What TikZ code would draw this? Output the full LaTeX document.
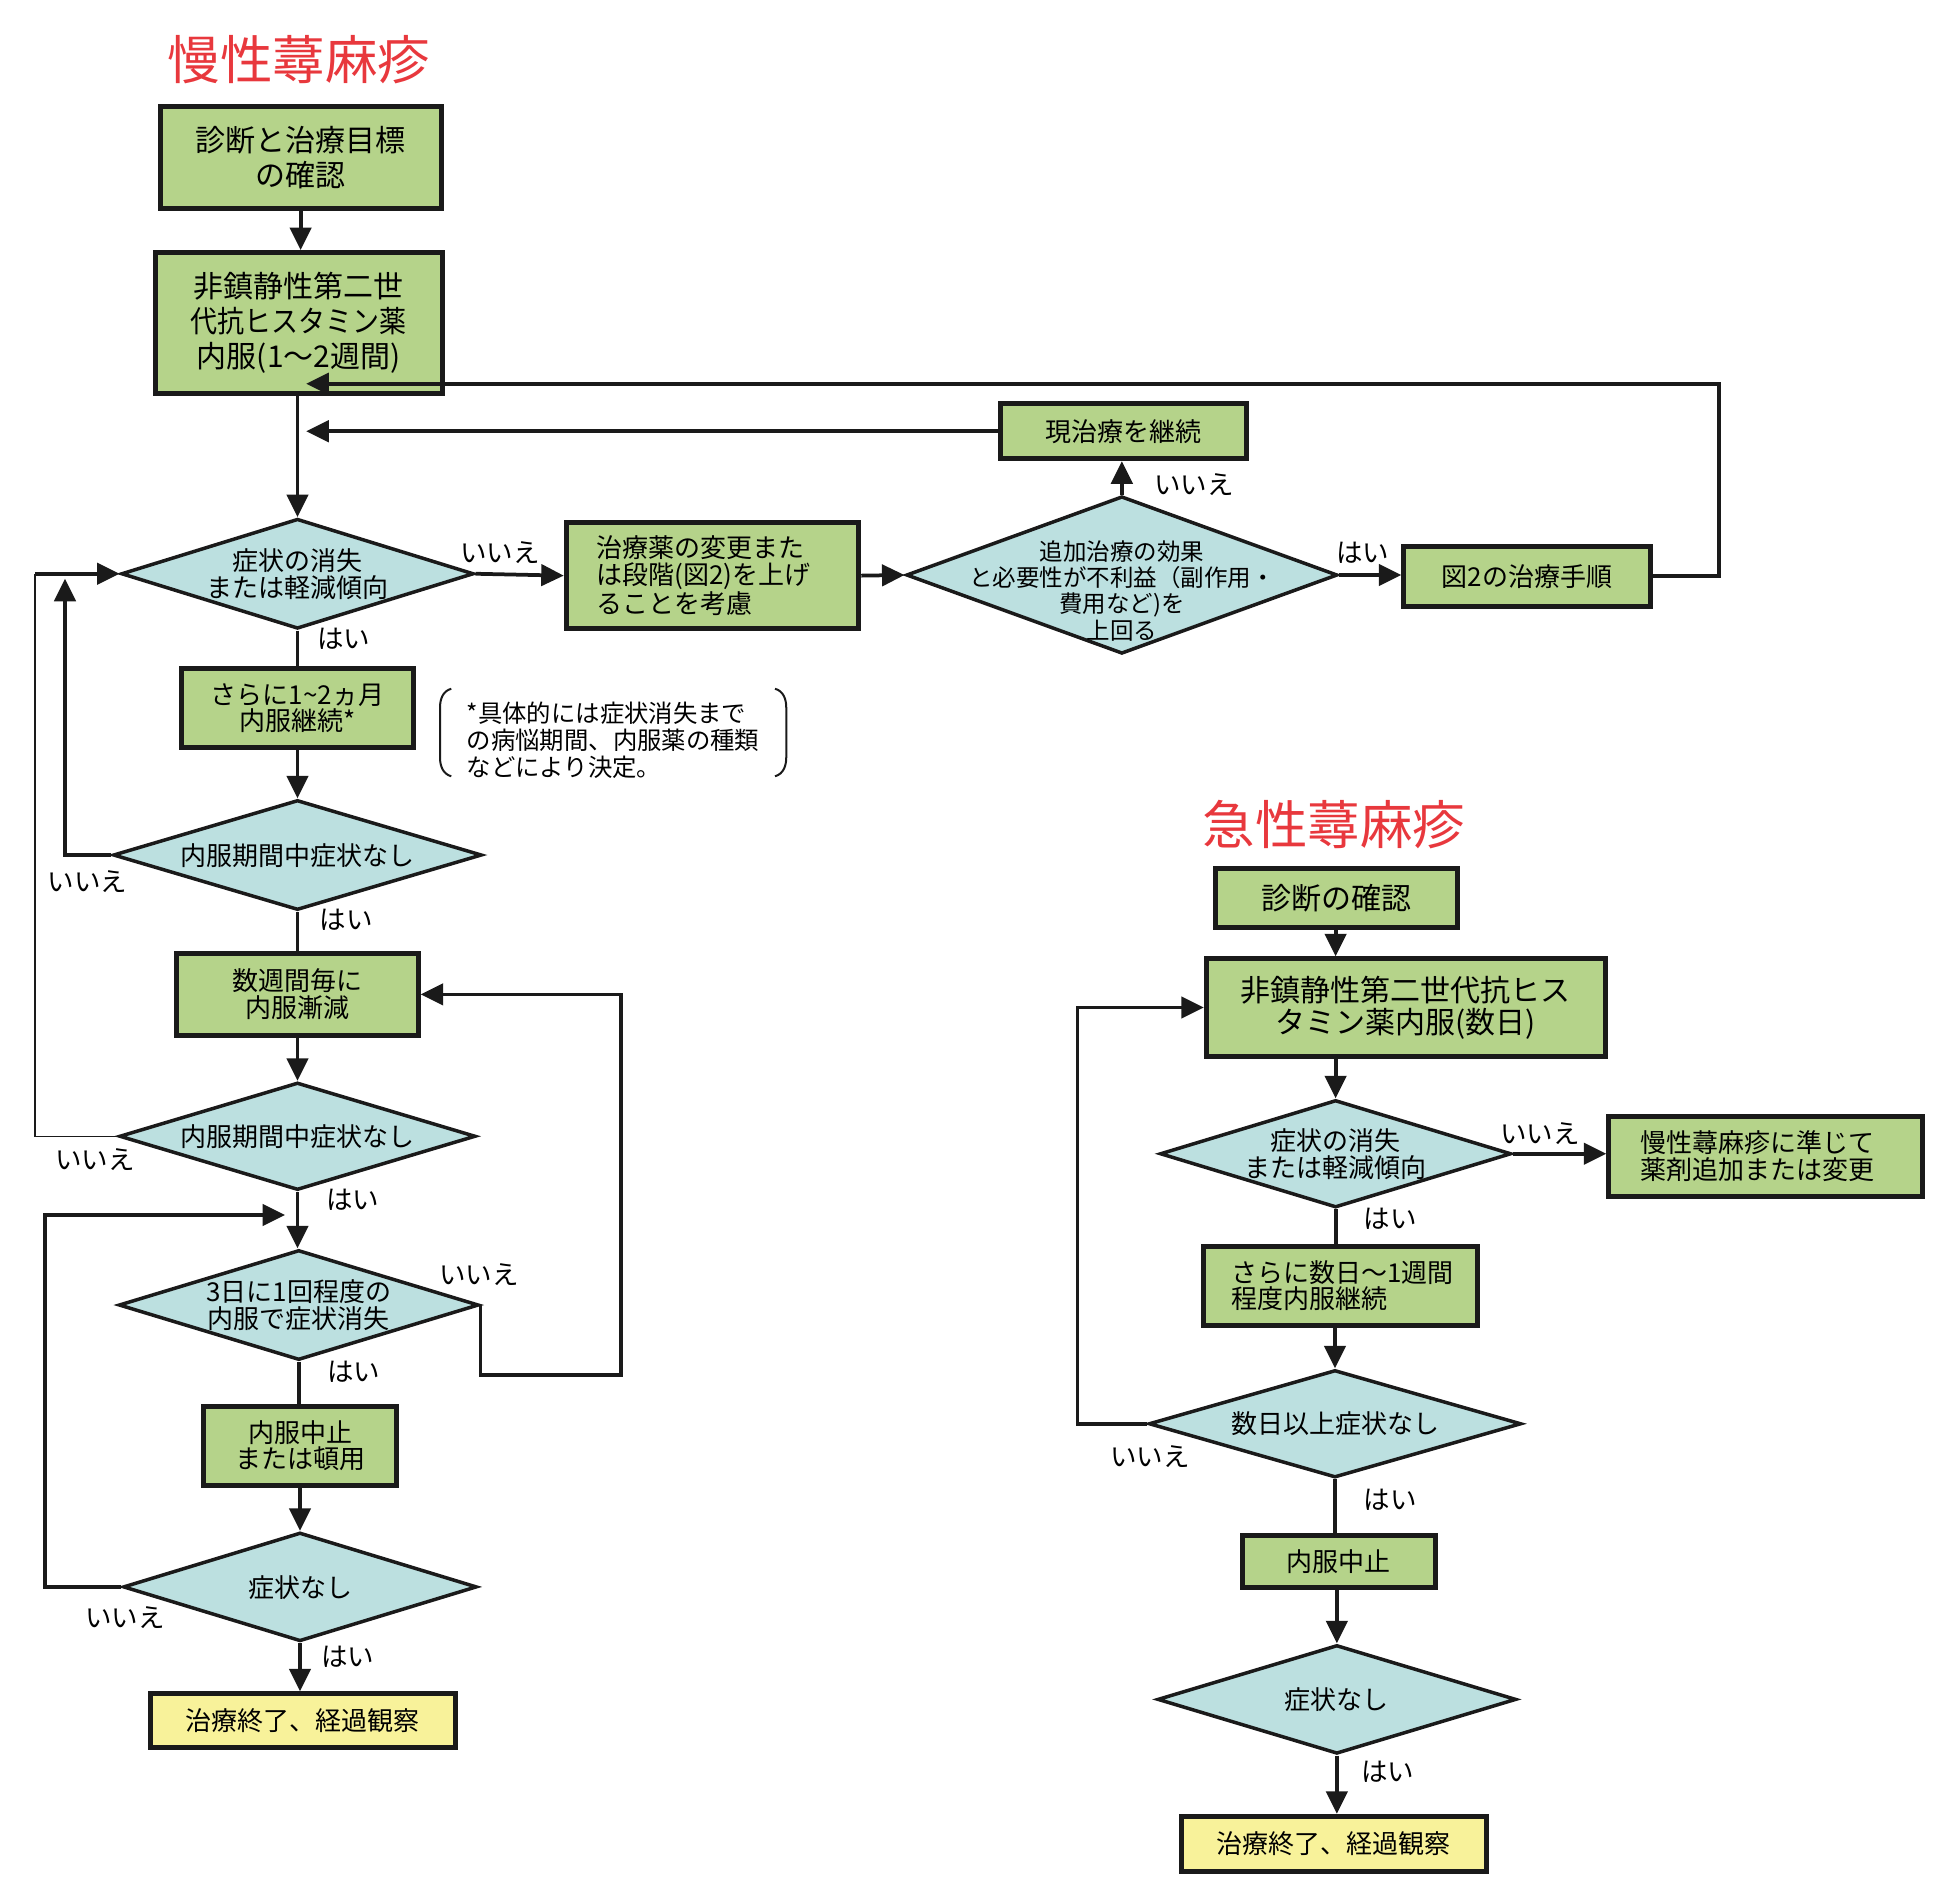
\documentclass[tikz,border=0pt]{standalone}
\usepackage{fontspec}
\usepackage{graphicx}
\setmainfont{Noto Sans CJK JP}
\usetikzlibrary{shapes.geometric,arrows.meta}
\definecolor{boxgreen}{HTML}{B5D38A}
\definecolor{diacyan}{HTML}{BCE0E0}
\definecolor{endyellow}{HTML}{F8F29A}
\definecolor{titlered}{HTML}{E8383D}
\definecolor{ink}{HTML}{1A1A1A}
\newcommand\dtext[2][-2.6pt]{\makebox[0pt]{\smash{\raisebox{#1}{$\vcenter{\lineskiplimit=-100pt\let\\\cr\halign{\hfil##\hfil\cr#2\crcr}}$}}}}
\tikzset{
  gbox/.style={draw=ink, line width=2pt, fill=boxgreen, inner sep=0pt, align=center, font=\fontsize{10.4}{10.75}\selectfont},
  bigbox/.style={gbox, font=\fontsize{12}{14}\selectfont},
  ybox/.style={gbox, fill=endyellow},
  dia/.style={diamond, draw=ink, line width=1.4pt, fill=diacyan, inner sep=0pt, font=\fontsize{10.4}{10.75}\selectfont},
  conn/.style={draw=ink, line width=1.5pt},
  thinconn/.style={draw=ink, line width=0.6pt},
  arr/.style={conn, -{Triangle[length=9pt,width=8.5pt]}},
  lbl/.style={inner sep=0pt, font=\fontsize{10.6}{11}\selectfont},
  ttl/.style={inner sep=0pt, text=titlered, font=\fontsize{21}{21}\selectfont},
}
\begin{document}
\begin{tikzpicture}[x=0.5pt,y=-0.5pt]
\useasboundingbox (0,0) rectangle (1568,1516);
% ---------- chronic ----------
\node[ttl] (T1) at (239,48) {慢性蕁麻疹};
\node[bigbox, minimum width=112.5pt, minimum height=41pt] (A) at (240.5,126) {診断と治療目標\\の確認};
\node[bigbox, minimum width=115pt, minimum height=56.5pt] (B) at (239,258.5) {非鎮静性第二世\\\scalebox{0.9}[1]{代抗ヒスタミン薬}\\内服(1〜2週間)};
\node[dia, minimum width=141pt, minimum height=44pt] (D1) at (238,459) {\dtext{症状の消失\\または軽減傾向}};
\node[gbox, align=left, text width=93pt, inner xsep=12pt, minimum height=42.5pt] (C) at (570,460.5) {治療薬の変更また\\は段階(図2)を上げ\\ることを考慮};
\node[dia, minimum width=172.5pt, minimum height=63pt, font=\fontsize{9.4}{10.5}\selectfont] (D2) at (897.5,460) {\dtext[-8.6pt]{追加治療の効果\\と必要性が不利益（副作用・\\費用など)を\\上回る}};
\node[gbox, minimum width=98.5pt, minimum height=22pt] (E) at (898.5,345) {現治療を継続};
\node[gbox, minimum width=98.5pt, minimum height=24pt] (F) at (1221.5,461) {図2の治療手順};
\node[gbox, minimum width=93pt, minimum height=31.5pt] (G) at (238,566.5) {さらに1\textasciitilde 2ヵ月\\内服継続*};
\node[inner sep=0pt, align=left, anchor=west, font=\fontsize{9.75}{10.75}\selectfont] (note) at (373,592) {*具体的には症状消失まで\\の病悩期間、内服薬の種類\\などにより決定。};
\node[dia, minimum width=147.5pt, minimum height=44pt] (D3) at (238,684) {\dtext{内服期間中症状なし}};
\node[gbox, minimum width=96.5pt, minimum height=32.5pt] (H) at (238,795.5) {数週間毎に\\内服漸減};
\node[dia, minimum width=142.5pt, minimum height=43pt] (D4) at (238,909) {\dtext{内服期間中症状なし}};
\node[dia, minimum width=144pt, minimum height=44pt] (D5) at (239,1044) {\dtext{3日に1回程度の\\内服で症状消失}};
\node[gbox, minimum width=77.5pt, minimum height=31.5pt] (I) at (240,1156.5) {内服中止\\または頓用};
\node[dia, minimum width=141.5pt, minimum height=43.5pt] (D6) at (240,1269.5) {\dtext{症状なし}};
\node[ybox, minimum width=122pt, minimum height=21.5pt] (J) at (242,1376.5) {治療終了、経過観察};
% brackets of the note
\draw[ink, line width=0.8pt] (361,551) to[out=195,in=90] (352,566) -- (352,606) to[out=-90,in=165] (361,621);
\draw[ink, line width=0.8pt] (620,551) to[out=-15,in=90] (629,566) -- (629,606) to[out=-90,in=15] (620,621);
% labels
\node[lbl] (l1) at (400,442) {いいえ};
\node[lbl] (l2) at (955,388) {いいえ};
\node[lbl] (l3) at (1090,442) {はい};
\node[lbl] (l4) at (275,511) {はい};
\node[lbl] (l5) at (70,705) {いいえ};
\node[lbl] (l6) at (277,736) {はい};
\node[lbl] (l7) at (76,928) {いいえ};
\node[lbl] (l8) at (282,960) {はい};
\node[lbl] (l9) at (383,1020) {いいえ};
\node[lbl] (l10) at (283,1097) {はい};
\node[lbl] (l11) at (100,1294) {いいえ};
\node[lbl] (l12) at (278,1325) {はい};
% coordinates
\coordinate (E1) at (245,345);
\coordinate (B1) at (245,307);
\coordinate (FR) at (1375,461);
\coordinate (L1) at (52,463);
\coordinate (L2) at (28,459);
\coordinate (L3) at (36,972);
\coordinate (L3e) at (228,972);
\coordinate (R1) at (497,795.5);
% connectors
\draw[arr] (A.south) -- (A.south |- B.north);
\draw[arr] (D1.north |- B.south) -- (D1.north);
\draw[arr] (D1.east) -- (C.west);
\draw[arr] (C.east) -- (D2.west);
\draw[arr] (D2.north) -- (D2.north |- E.south);
\draw[arr] (E.west) -- (E1);
\draw[arr] (D2.east) -- (D2.east -| F.west);
\draw[arr] (F.east) -- (FR) |- (B1);
\draw[conn] (D1.south) -- (D1.south |- G.north);
\draw[arr] (G.south) -- (G.south |- D3.north);
\draw[arr] (D3.west) -| (L1);
\draw[thinconn] (D4.west) -| (L2);
\draw[arr] (L2) -- (D1.west);
\draw[conn] (D3.south) -- (D3.south |- H.north);
\draw[arr] (H.south) -- (H.south |- D4.north);
\draw[arr] (D4.south) -- (D4.south |- D5.north);
\draw[arr] (D6.west) -| (L3) -- (L3e);
\draw[arr] (D5.east) -- ++(0,56) -| (R1) -- (H.east);
\draw[conn] (D5.south) -- (D5.south |- I.north);
\draw[arr] (I.south) -- (I.south |- D6.north);
\draw[arr] (D6.south) -- (D6.south |- J.north);
% ---------- acute ----------
\node[ttl] (T2) at (1067,660) {急性蕁麻疹};
\node[bigbox, minimum width=97pt, minimum height=23.5pt] (K) at (1069,718.5) {診断の確認};
\node[bigbox, minimum width=159.5pt, minimum height=39pt, font=\fontsize{12}{13}\selectfont] (L) at (1124.5,806) {非鎮静性第二世代抗ヒス\\タミン薬内服(数日)};
\node[dia, minimum width=140.5pt, minimum height=43pt] (D7) at (1068.5,923) {\dtext{症状の消失\\または軽減傾向}};
\node[gbox, align=left, text width=100.5pt, inner xsep=12.5pt, minimum height=32pt] (M) at (1412.5,925) {慢性蕁麻疹に準じて\\薬剤追加または変更};
\node[gbox, align=left, text width=87.5pt, inner xsep=11pt, minimum height=31.5pt] (N) at (1072.5,1028.5) {さらに数日〜1週間\\程度内服継続};
\node[dia, minimum width=149pt, minimum height=43pt] (D8) at (1068,1139) {\dtext{数日以上症状なし}};
\node[gbox, minimum width=77pt, minimum height=21pt] (O) at (1071,1249) {内服中止};
\node[dia, minimum width=143.5pt, minimum height=43.5pt] (D9) at (1069.5,1359.5) {\dtext{症状なし}};
\node[ybox, minimum width=122pt, minimum height=22pt] (P) at (1067,1475) {治療終了、経過観察};
\node[lbl] (r1) at (1232,907) {いいえ};
\node[lbl] (r2) at (1112,975) {はい};
\node[lbl] (r3) at (920,1165) {いいえ};
\node[lbl] (r4) at (1112,1200) {はい};
\node[lbl] (r5) at (1110,1417) {はい};
\coordinate (R2) at (862,806);
\draw[arr] (D7.north |- K.south) -- (D7.north |- L.north);
\draw[arr] (D7.north |- L.south) -- (D7.north);
\draw[arr] (D7.east) -- (D7.east -| M.west);
\draw[conn] (D7.south) -- (D7.south |- N.north);
\draw[arr] (D8.north |- N.south) -- (D8.north);
\draw[arr] (D8.west) -| (R2) -- (R2 -| L.west);
\draw[conn] (D8.south) -- (D8.south |- O.north);
\draw[arr] (D9.north |- O.south) -- (D9.north);
\draw[arr] (D9.south) -- (D9.south |- P.north);
\end{tikzpicture}
\end{document}
